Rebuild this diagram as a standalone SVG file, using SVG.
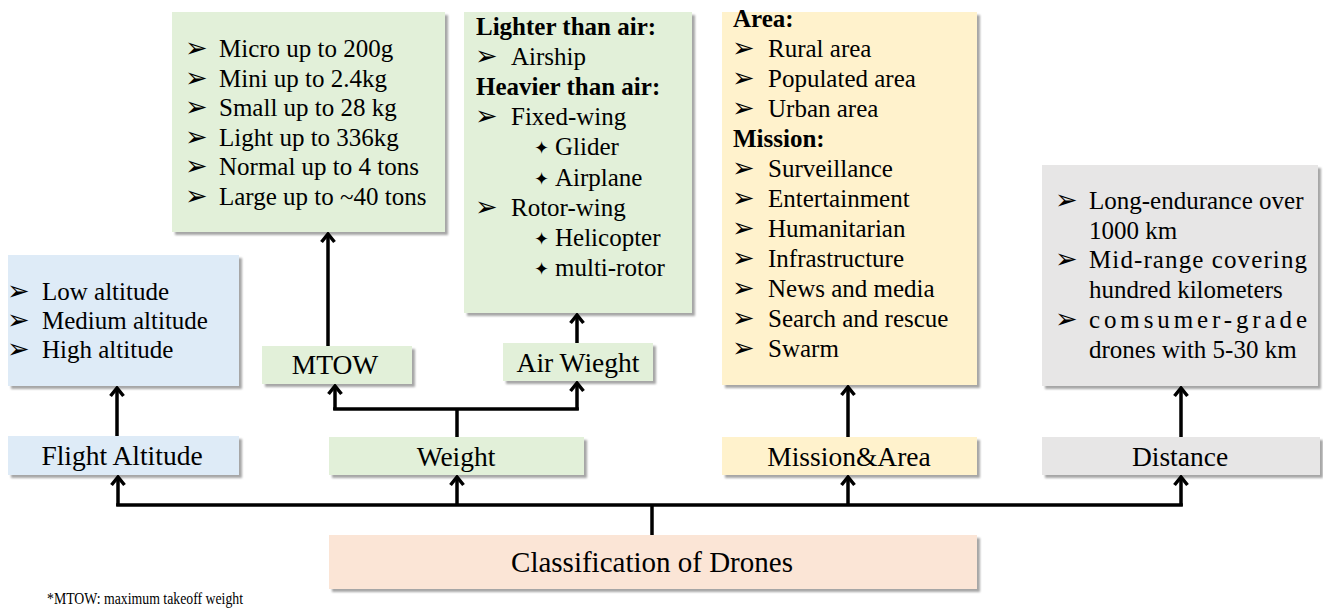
<svg xmlns="http://www.w3.org/2000/svg" width="1323" height="608" viewBox="0 0 1323 608">
<defs>
<filter id="sh" x="-5%" y="-5%" width="115%" height="125%">
<feDropShadow dx="3" dy="3" stdDeviation="1.3" flood-color="#000" flood-opacity="0.35"/>
</filter>
<marker id="ah" markerUnits="userSpaceOnUse" markerWidth="20" markerHeight="20" viewBox="-12 -10 16 20" refX="0" refY="0" orient="auto">
<path d="M-8,-6.5 L0,0 L-8,6.5" fill="none" stroke="#000" stroke-width="3.5" stroke-linejoin="miter"/>
</marker>
</defs>
<style>
.t{font-family:"Liberation Serif","Times New Roman",serif;fill:#000}
.lab{font-size:27.5px;text-anchor:middle}
.li{font-size:25px}
.b{font-weight:bold}
.bu{font-family:"DejaVu Sans",sans-serif;font-size:27px;fill:#000}
.dm{font-family:"DejaVu Sans",sans-serif;font-size:18px;fill:#000}
.blue{fill:#DEEBF7}
.green{fill:#E2F0D9}
.yel{fill:#FFF2CC}
.gray{fill:#E7E6E6}
.peach{fill:#FBE5D6}
.c{fill:none;stroke:#000;stroke-width:3.5}
.a{marker-end:url(#ah)}
</style>

<g id="connectors">
<line class="c" x1="652" y1="535" x2="652" y2="505"/>
<line class="c" x1="116.2" y1="505" x2="1182.8" y2="505"/>
<line class="c a" x1="118" y1="506" x2="118" y2="477"/>
<line class="c a" x1="457" y1="506" x2="457" y2="477"/>
<line class="c a" x1="848" y1="506" x2="848" y2="477"/>
<line class="c a" x1="1181" y1="506" x2="1181" y2="477"/>
<line class="c a" x1="117" y1="436" x2="117" y2="388"/>
<line class="c a" x1="848" y1="437" x2="848" y2="387"/>
<line class="c a" x1="1181" y1="437" x2="1181" y2="388"/>
<line class="c" x1="457" y1="437" x2="457" y2="409"/>
<line class="c" x1="333.2" y1="409" x2="578.8" y2="409"/>
<line class="c a" x1="335" y1="410" x2="335" y2="386"/>
<line class="c a" x1="577" y1="410" x2="577" y2="383"/>
<line class="c a" x1="328" y1="346" x2="328" y2="234"/>
<line class="c a" x1="577" y1="343" x2="577" y2="315"/>
</g>

<g id="root">
<rect class="peach" x="329" y="535" width="648" height="54" filter="url(#sh)"/>
<text class="t" x="652" y="572" font-size="29" text-anchor="middle">Classification of Drones</text>
</g>

<g id="flight-altitude">
<rect class="blue" x="8" y="436" width="231" height="39" filter="url(#sh)"/>
<text class="t lab" x="122" y="465">Flight Altitude</text>
</g>

<g id="flight-altitude-detail">
<rect class="blue" x="8" y="255" width="231" height="131" filter="url(#sh)"/>
<text class="bu" x="7" y="300">➢</text><text class="t li" x="42" y="300">Low altitude</text>
<text class="bu" x="7" y="329">➢</text><text class="t li" x="42" y="329">Medium altitude</text>
<text class="bu" x="7" y="358">➢</text><text class="t li" x="42" y="358">High altitude</text>
</g>

<g id="weight">
<rect class="green" x="329" y="437" width="255" height="38" filter="url(#sh)"/>
<text class="t lab" x="456" y="466">Weight</text>
</g>

<g id="mtow">
<rect class="green" x="262" y="346" width="150" height="38" filter="url(#sh)"/>
<text class="t lab" x="335" y="374">MTOW</text>
</g>

<g id="mtow-detail">
<rect class="green" x="172" y="12" width="273" height="220" filter="url(#sh)"/>
<text class="bu" x="185" y="57">➢</text><text class="t li" x="219" y="57">Micro up to 200g</text>
<text class="bu" x="185" y="86.6">➢</text><text class="t li" x="219" y="86.6">Mini up to 2.4kg</text>
<text class="bu" x="185" y="116.2">➢</text><text class="t li" x="219" y="116.2">Small up to 28 kg</text>
<text class="bu" x="185" y="145.8">➢</text><text class="t li" x="219" y="145.8">Light up to 336kg</text>
<text class="bu" x="185" y="175.4">➢</text><text class="t li" x="219" y="175.4">Normal up to 4 tons</text>
<text class="bu" x="185" y="205">➢</text><text class="t li" x="219" y="205">Large up to ~40 tons</text>
</g>

<g id="air-weight">
<rect class="green" x="503" y="343" width="150" height="38" filter="url(#sh)"/>
<text class="t lab" x="578" y="372">Air Wieght</text>
</g>

<g id="air-weight-detail">
<rect class="green" x="464" y="12" width="228" height="301" filter="url(#sh)"/>
<text class="t li b" x="476" y="35">Lighter than air:</text>
<text class="bu" x="475" y="65">➢</text><text class="t li" x="511" y="65">Airship</text>
<text class="t li b" x="476" y="95">Heavier than air:</text>
<text class="bu" x="475" y="125">➢</text><text class="t li" x="511" y="125">Fixed-wing</text>
<text class="dm" x="534" y="154">✦</text><text class="t li" x="555" y="155">Glider</text>
<text class="dm" x="534" y="184.5">✦</text><text class="t li" x="555" y="185.5">Airplane</text>
<text class="bu" x="475" y="215.5">➢</text><text class="t li" x="511" y="215.5">Rotor-wing</text>
<text class="dm" x="534" y="244.5">✦</text><text class="t li" x="555" y="245.5">Helicopter</text>
<text class="dm" x="534" y="274.5">✦</text><text class="t li" x="555" y="275.5">multi-rotor</text>
</g>

<g id="mission-area">
<rect class="yel" x="722" y="437" width="255" height="38" filter="url(#sh)"/>
<text class="t lab" x="849" y="466">Mission&amp;Area</text>
</g>

<g id="mission-area-detail">
<rect class="yel" x="722" y="12" width="255" height="373" filter="url(#sh)"/>
<text class="t li b" x="733" y="26.5">Area:</text>
<text class="bu" x="732" y="56.5">➢</text><text class="t li" x="768" y="56.5">Rural area</text>
<text class="bu" x="732" y="86.5">➢</text><text class="t li" x="768" y="86.5">Populated area</text>
<text class="bu" x="732" y="116.5">➢</text><text class="t li" x="768" y="116.5">Urban area</text>
<text class="t li b" x="733" y="146.5">Mission:</text>
<text class="bu" x="732" y="176.5">➢</text><text class="t li" x="768" y="176.5">Surveillance</text>
<text class="bu" x="732" y="206.5">➢</text><text class="t li" x="768" y="206.5">Entertainment</text>
<text class="bu" x="732" y="236.5">➢</text><text class="t li" x="768" y="236.5">Humanitarian</text>
<text class="bu" x="732" y="266.5">➢</text><text class="t li" x="768" y="266.5">Infrastructure</text>
<text class="bu" x="732" y="296.5">➢</text><text class="t li" x="768" y="296.5">News and media</text>
<text class="bu" x="732" y="326.5">➢</text><text class="t li" x="768" y="326.5">Search and rescue</text>
<text class="bu" x="732" y="356.5">➢</text><text class="t li" x="768" y="356.5">Swarm</text>
</g>

<g id="distance">
<rect class="gray" x="1042" y="437" width="278" height="38" filter="url(#sh)"/>
<text class="t lab" x="1180" y="466">Distance</text>
</g>

<g id="distance-detail">
<rect class="gray" x="1042" y="165" width="276" height="221" filter="url(#sh)"/>
<text class="bu" x="1055" y="209">➢</text><text class="t li" x="1089" y="209">Long-endurance over</text>
<text class="t li" x="1089" y="238.5">1000 km</text>
<text class="bu" x="1055" y="268">➢</text><text class="t li" x="1089" y="268" textLength="218" lengthAdjust="spacing">Mid-range covering</text>
<text class="t li" x="1089" y="297.5">hundred kilometers</text>
<text class="bu" x="1055" y="328">➢</text><text class="t li" x="1089" y="328" textLength="218" lengthAdjust="spacing">comsumer-grade</text>
<text class="t li" x="1089" y="357.5">drones with 5-30 km</text>
</g>

<text class="t" x="47" y="604" font-size="16" textLength="196" lengthAdjust="spacingAndGlyphs">*MTOW: maximum takeoff weight</text>
</svg>
